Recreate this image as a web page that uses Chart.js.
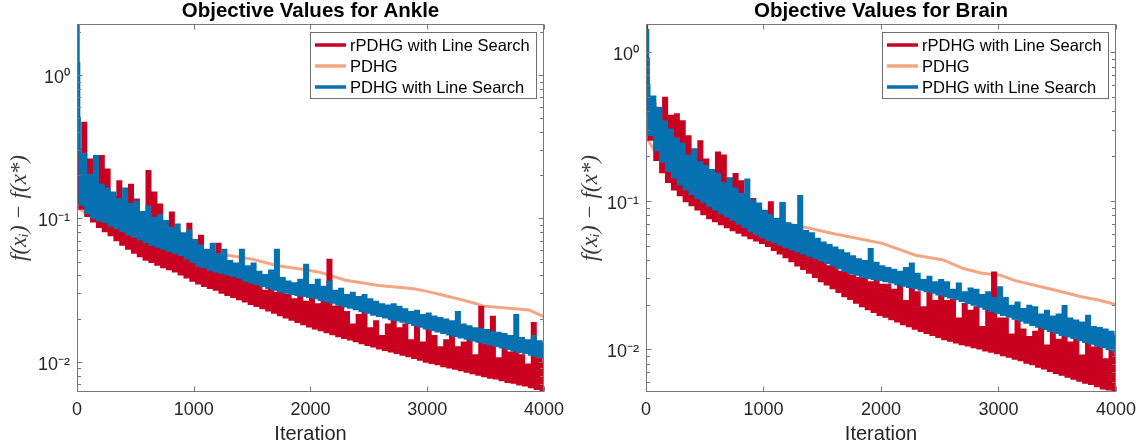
<!DOCTYPE html>
<html><head><meta charset="utf-8">
<script src="https://cdn.jsdelivr.net/npm/chart.js@4.4.1/dist/chart.umd.min.js"></script>
<style>
html,body{margin:0;padding:0;background:#fff;}
#wrap{position:relative;width:1143px;height:448px;overflow:hidden;}
canvas{position:absolute;top:0;}
</style></head><body>
<div id="wrap">
<canvas id="cA" width="571" height="448" style="left:0px"></canvas>
<canvas id="cB" width="572" height="448" style="left:571px"></canvas>
</div>
<script>
// ---------- data ----------
const SERIES_LABELS = ['rPDHG with Line Search', 'PDHG', 'PDHG with Line Search'];
const COLORS = ['#ca0020', '#f4a582', '#0571b0'];
const X_TICKS = [0, 1000, 2000, 3000, 4000];
const Y_TICKS = [0.01, 0.1, 1];
const Y_TICK_LABELS = ['10\u207B\u00B2', '10\u207B\u00B9', '10\u2070'];
const TITLES = ['Objective Values for Ankle', 'Objective Values for Brain'];
const X_TITLE = 'Iteration';
const Y_TITLE = 'f(x\u1D62) \u2212 f(x*)';

// iteration index of each recorded sample of the noisy runs
const ITER_HEAD = [0, 5, 10, 15, 20];
const ITER_STEP = 25;
const ITER_MAX = 4000;
const ITERATIONS = ITER_HEAD.concat(Array.from({length: ITER_MAX / ITER_STEP}, (_, i) => (i + 1) * ITER_STEP));

// ---- Ankle ----
const rpdhgAnkle = [
1.2, 0.9, 0.3, 0.16, 0.13,
0.118, 0.46, 0.105, 0.255, 0.096, 0.255, 0.088, 0.27, 0.082, 0.217,
0.077, 0.14, 0.071, 0.18, 0.066, 0.12, 0.062, 0.17, 0.058, 0.134,
0.055, 0.1, 0.052, 0.212, 0.05, 0.15, 0.048, 0.124, 0.046, 0.095,
0.0445, 0.109, 0.043, 0.08, 0.041, 0.07, 0.039, 0.091, 0.037, 0.065,
0.0355, 0.075, 0.034, 0.055, 0.033, 0.05, 0.032, 0.066, 0.0305, 0.048,
0.0295, 0.045, 0.0285, 0.04, 0.0275, 0.043, 0.0265, 0.036, 0.0255, 0.04,
0.0247, 0.034, 0.0238, 0.031, 0.023, 0.035, 0.0222, 0.03, 0.0213, 0.033,
0.0205, 0.029, 0.0198, 0.027, 0.0191, 0.03, 0.0184, 0.026, 0.0178, 0.028,
0.0172, 0.025, 0.0167, 0.027, 0.0162, 0.051, 0.0157, 0.024, 0.0152, 0.026,
0.0148, 0.022, 0.0144, 0.018, 0.014, 0.021, 0.0136, 0.023, 0.0132, 0.017,
0.0129, 0.019, 0.0125, 0.015, 0.0122, 0.018, 0.0119, 0.02, 0.0116, 0.017,
0.0113, 0.018, 0.011, 0.014, 0.0107, 0.019, 0.0104, 0.0135, 0.0101, 0.02,
0.0099, 0.015, 0.0097, 0.0125, 0.0094, 0.014, 0.0092, 0.016, 0.009, 0.0125,
0.0088, 0.0135, 0.0086, 0.015, 0.0084, 0.011, 0.0082, 0.024, 0.008, 0.0135,
0.0078, 0.0204, 0.0077, 0.0105, 0.0075, 0.013, 0.0073, 0.0115, 0.0072, 0.0125,
0.007, 0.011, 0.0069, 0.0095, 0.0067, 0.0185, 0.0065, 0.0105, 0.0063, 0.01
];
const pdhglsAnkle = [
3.0, 2.5, 1.2, 0.5, 0.3,
0.125, 0.28, 0.11, 0.2, 0.102, 0.27, 0.098, 0.17, 0.095, 0.16,
0.09, 0.15, 0.086, 0.135, 0.082, 0.16, 0.078, 0.125, 0.075, 0.13,
0.072, 0.11, 0.069, 0.12, 0.066, 0.1, 0.064, 0.105, 0.062, 0.095,
0.06, 0.085, 0.058, 0.09, 0.056, 0.078, 0.053, 0.082, 0.05, 0.07,
0.047, 0.064, 0.046, 0.06, 0.044, 0.066, 0.043, 0.056, 0.042, 0.06,
0.041, 0.05, 0.04, 0.048, 0.039, 0.06, 0.037, 0.046, 0.036, 0.048,
0.035, 0.042, 0.034, 0.04, 0.033, 0.043, 0.032, 0.06, 0.031, 0.038,
0.0305, 0.036, 0.03, 0.035, 0.0295, 0.037, 0.029, 0.047, 0.0285, 0.034,
0.028, 0.037, 0.0272, 0.033, 0.0265, 0.036, 0.026, 0.031, 0.0252, 0.032,
0.0245, 0.029, 0.024, 0.03, 0.0234, 0.028, 0.0228, 0.029, 0.0222, 0.027,
0.0215, 0.026, 0.021, 0.025, 0.0205, 0.0245, 0.02, 0.025, 0.0196, 0.024,
0.0192, 0.023, 0.0187, 0.022, 0.0182, 0.0225, 0.0177, 0.021, 0.0172, 0.0215,
0.0168, 0.0205, 0.0164, 0.02, 0.016, 0.0195, 0.0156, 0.019, 0.0152, 0.022,
0.0149, 0.018, 0.0146, 0.0175, 0.0142, 0.017, 0.0139, 0.0168, 0.0136, 0.0165,
0.0133, 0.016, 0.013, 0.0158, 0.0127, 0.0155, 0.0124, 0.015, 0.0121, 0.021,
0.0118, 0.0145, 0.0116, 0.014, 0.0113, 0.015, 0.011, 0.0138, 0.0108, 0.0136
];
const pdhgAnkleIter = [0, 100, 250, 500, 750, 1000, 1150, 1250, 1500, 1720, 1900, 2017, 2085, 2300, 2585, 2870, 2990, 3130, 3300, 3415, 3475, 3700, 3870, 4000];
const pdhgAnkle = [0.12, 0.105, 0.092, 0.078, 0.069, 0.062, 0.058, 0.056, 0.052, 0.0467, 0.0445, 0.043, 0.042, 0.037, 0.034, 0.0324, 0.0311, 0.0292, 0.027, 0.0255, 0.0245, 0.0236, 0.023, 0.0206];

// ---- Brain ----
const rpdhgBrain = [
1.8, 1.2, 0.7, 0.45, 0.4,
0.26, 0.45, 0.19, 0.3, 0.157, 0.49, 0.135, 0.37, 0.12, 0.38,
0.11, 0.34, 0.1, 0.27, 0.094, 0.22, 0.088, 0.25, 0.082, 0.188,
0.077, 0.15, 0.0735, 0.21, 0.07, 0.2, 0.067, 0.14, 0.064, 0.15,
0.0615, 0.134, 0.059, 0.08, 0.0565, 0.102, 0.0545, 0.09, 0.0525, 0.065,
0.05, 0.097, 0.047, 0.058, 0.0445, 0.096, 0.042, 0.052, 0.0395, 0.05,
0.037, 0.045, 0.035, 0.058, 0.033, 0.042, 0.031, 0.05, 0.029, 0.04,
0.0275, 0.036, 0.026, 0.04, 0.0245, 0.033, 0.023, 0.038, 0.022, 0.031,
0.0208, 0.03, 0.0197, 0.033, 0.0188, 0.028, 0.018, 0.031, 0.0172, 0.027,
0.0167, 0.027, 0.0161, 0.025, 0.0155, 0.028, 0.0149, 0.021, 0.0144, 0.026,
0.0139, 0.024, 0.0134, 0.019, 0.013, 0.025, 0.0126, 0.021, 0.0122, 0.023,
0.0118, 0.021, 0.0115, 0.0215, 0.0112, 0.016, 0.0109, 0.02, 0.0107, 0.018,
0.0104, 0.019, 0.0102, 0.014, 0.0099, 0.0185, 0.0097, 0.0326, 0.0095, 0.016,
0.0092, 0.016, 0.009, 0.0125, 0.0087, 0.0155, 0.0085, 0.0135, 0.0082, 0.012,
0.008, 0.013, 0.0077, 0.014, 0.0075, 0.0105, 0.0072, 0.0135, 0.007, 0.0115,
0.0068, 0.0122, 0.0066, 0.011, 0.0064, 0.012, 0.0062, 0.009, 0.006, 0.0115,
0.0059, 0.0102, 0.0057, 0.011, 0.0055, 0.0085, 0.0054, 0.0105, 0.0052, 0.0092
];
const pdhglsBrain = [
0.4, 1.0, 1.4, 0.9, 0.6,
0.28, 0.5, 0.22, 0.42, 0.185, 0.34, 0.16, 0.3, 0.145, 0.26,
0.13, 0.24, 0.12, 0.2, 0.112, 0.22, 0.105, 0.18, 0.099, 0.17,
0.093, 0.16, 0.088, 0.15, 0.083, 0.13, 0.079, 0.14, 0.075, 0.12,
0.071, 0.11, 0.067, 0.138, 0.063, 0.1, 0.06, 0.095, 0.057, 0.085,
0.055, 0.08, 0.053, 0.075, 0.051, 0.096, 0.049, 0.07, 0.0475, 0.068,
0.046, 0.107, 0.0445, 0.062, 0.043, 0.06, 0.0415, 0.055, 0.04, 0.052,
0.0385, 0.05, 0.037, 0.048, 0.0355, 0.046, 0.034, 0.044, 0.0327, 0.042,
0.032, 0.04, 0.031, 0.039, 0.0305, 0.047, 0.03, 0.038, 0.0295, 0.036,
0.029, 0.035, 0.0284, 0.034, 0.0277, 0.033, 0.027, 0.035, 0.0265, 0.0375,
0.026, 0.032, 0.0254, 0.029, 0.0248, 0.0305, 0.0242, 0.028, 0.0236, 0.029,
0.023, 0.028, 0.0225, 0.025, 0.0219, 0.0275, 0.0213, 0.024, 0.0207, 0.0255,
0.0201, 0.025, 0.0195, 0.023, 0.0189, 0.024, 0.0183, 0.022, 0.0177, 0.026,
0.0172, 0.022, 0.0167, 0.0195, 0.0162, 0.0205, 0.0157, 0.0185, 0.0152, 0.0195,
0.0147, 0.019, 0.0143, 0.017, 0.0138, 0.018, 0.0134, 0.0165, 0.013, 0.017,
0.0126, 0.0194, 0.0123, 0.016, 0.012, 0.0155, 0.0116, 0.015, 0.0113, 0.0167,
0.011, 0.014, 0.0107, 0.0138, 0.0104, 0.0135, 0.0101, 0.013, 0.0098, 0.0125
];
const pdhgBrainIter = [0, 100, 250, 400, 600, 800, 1000, 1200, 1400, 1600, 1729, 2011, 2294, 2530, 2700, 2859, 3015, 3141, 3424, 3706, 3850, 4000];
const pdhgBrain = [0.27, 0.2, 0.15, 0.125, 0.105, 0.085, 0.076, 0.07, 0.065, 0.06, 0.0573, 0.0517, 0.043, 0.04, 0.035, 0.0325, 0.0316, 0.029, 0.0257, 0.0226, 0.0215, 0.02];

// ---------- style ----------
const FONT = '"Liberation Sans", Arial, Helvetica, sans-serif';
const SERIF = '"Liberation Serif", "DejaVu Serif", serif';

function strokeLine(ctx, x1, y1, x2, y2) { ctx.beginPath(); ctx.moveTo(x1, y1); ctx.lineTo(x2, y2); ctx.stroke(); }

const framePlugin = {
  id: 'frame',
  afterDatasetsDraw(chart) {
    const {ctx, chartArea: a, scales: {x, y}} = chart;
    ctx.save();
    ctx.strokeStyle = '#777'; ctx.lineWidth = 1;
    const L = Math.round(a.left) + 0.5, R = Math.round(a.right) - 0.5, T = Math.round(a.top) + 0.5, B = Math.round(a.bottom) - 0.5;
    ctx.strokeRect(L, T, R - L, B - T);
    X_TICKS.forEach(v => {
      const px = Math.round(x.getPixelForValue(v)) + 0.5;
      strokeLine(ctx, px, B, px, B - 5);
      strokeLine(ctx, px, T, px, T + 5);
    });
    for (let e = -4; e <= 1; e++) {
      for (let m = 1; m <= 9; m++) {
        const v = m * Math.pow(10, e);
        if (v < y.min || v > y.max) continue;
        const py = Math.round(y.getPixelForValue(v)) + 0.5;
        const len = m === 1 ? 5 : 3.5;
        strokeLine(ctx, L, py, L + len, py);
        strokeLine(ctx, R, py, R - len, py);
      }
    }
    ctx.restore();
  }
};

const decoPlugin = {
  id: 'deco',
  afterDraw(chart, args, opts) {
    const {ctx, chartArea: a} = chart;
    ctx.save();
    ctx.font = 'bold 20.5px ' + FONT; ctx.fillStyle = '#000'; ctx.textAlign = 'center'; ctx.textBaseline = 'middle';
    ctx.fillText(opts.title, (a.left + a.right) / 2, 11);
    const w = 226, h = 66, bx = Math.round(a.right) - 8 - w, by = Math.round(a.top) + 8;
    ctx.fillStyle = '#fff'; ctx.fillRect(bx, by, w, h);
    ctx.strokeStyle = '#6e6e6e'; ctx.lineWidth = 1; ctx.strokeRect(bx + 0.5, by + 0.5, w, h);
    opts.order.forEach((di, i) => {
      const ds = chart.data.datasets[di];
      const cy = by + 13 + i * 21;
      ctx.strokeStyle = ds.borderColor; ctx.lineWidth = 3.5;
      strokeLine(ctx, bx + 5, cy, bx + 36, cy);
      ctx.fillStyle = '#000'; ctx.font = '16.5px ' + FONT; ctx.textAlign = 'left'; ctx.textBaseline = 'middle';
      ctx.fillText(ds.label, bx + 40, cy + 1);
    });
    ctx.restore();
  }
};

function toPoints(xs, ys) { return ys.map((v, i) => ({x: xs[i], y: v})); }

function makeChart(id, c) {
  return new Chart(document.getElementById(id), {
    type: 'line',
    data: {
      datasets: [
        {label: SERIES_LABELS[2], data: toPoints(ITERATIONS, c.pdhgls), borderColor: COLORS[2], borderWidth: 3.1, stepped: true, pointRadius: 0},
        {label: SERIES_LABELS[0], data: toPoints(ITERATIONS, c.rpdhg), borderColor: COLORS[0], borderWidth: 3.1, stepped: true, pointRadius: 0},
        {label: SERIES_LABELS[1], data: toPoints(c.pdhgIter, c.pdhg), borderColor: COLORS[1], borderWidth: 3, tension: 0, pointRadius: 0}
      ]
    },
    options: {
      responsive: false,
      animation: false,
      events: [],
      layout: {padding: {left: 0, right: c.padRight, top: 24, bottom: 0}},
      plugins: {
        legend: {display: false},
        tooltip: {enabled: false},
        title: {display: false},
        deco: {title: c.title, order: [1, 2, 0]}
      },
      scales: {
        x: {
          type: 'linear', min: 0, max: ITER_MAX,
          afterBuildTicks: s => { s.ticks = X_TICKS.map(v => ({value: v})); },
          ticks: {callback: (v, i) => String(X_TICKS[i]), font: {family: FONT, size: 18}, color: '#262626', padding: 7, maxRotation: 0, autoSkip: false},
          grid: {display: false, drawTicks: false},
          border: {display: false},
          title: {display: true, text: X_TITLE, font: {family: FONT, size: 20}, color: '#262626', padding: {top: 0, bottom: 2}},
          afterFit: s => { s.height = 56; }
        },
        y: {
          type: 'logarithmic', min: c.ymin, max: c.ymax,
          afterBuildTicks: s => { s.ticks = Y_TICKS.map(v => ({value: v})); },
          ticks: {callback: (v, i) => Y_TICK_LABELS[i], font: {family: FONT, size: 18}, color: '#262626', padding: 7, autoSkip: false, labelOffset: 3},
          grid: {display: false, drawTicks: false},
          border: {display: false},
          title: {display: true, text: Y_TITLE, font: {family: SERIF, size: 23, style: 'italic'}, color: '#3a3a3a', padding: {top: 6, bottom: 0}},
          afterFit: s => { s.width = c.yWidth; }
        }
      }
    },
    plugins: [framePlugin, decoPlugin]
  });
}

makeChart('cA', {title: TITLES[0], rpdhg: rpdhgAnkle, pdhgls: pdhglsAnkle, pdhg: pdhgAnkle, pdhgIter: pdhgAnkleIter, ymin: 0.00615, ymax: 2.27, yWidth: 77, padRight: 22});
makeChart('cB', {title: TITLES[1], rpdhg: rpdhgBrain, pdhgls: pdhglsBrain, pdhg: pdhgBrain, pdhgIter: pdhgBrainIter, ymin: 0.00516, ymax: 1.55, yWidth: 75, padRight: 25});
</script>
</body></html>
